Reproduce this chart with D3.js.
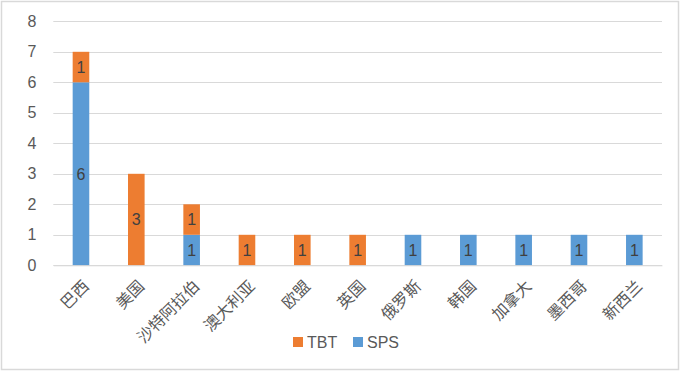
<!DOCTYPE html>
<html>
<head>
<meta charset="utf-8">
<script src="https://cdn.jsdelivr.net/npm/d3@7.9.0/dist/d3.min.js"></script>
<style>
  body { margin: 0; background: #fff; }
  svg { display: block; }
  text { font-family: "Liberation Sans", "Noto Sans CJK SC", sans-serif; }
</style>
</head>
<body>
<svg id="chart" width="681" height="373"></svg>
<script>
// Chart data
const categories = ['巴西', '美国', '沙特阿拉伯', '澳大利亚', '欧盟', '英国', '俄罗斯', '韩国', '加拿大', '墨西哥', '新西兰'];
const spsValues = [6, 0, 1, 0, 0, 0, 1, 1, 1, 1, 1];
const tbtValues = [1, 3, 1, 1, 1, 1, 0, 0, 0, 0, 0];
const yTicks = [0, 1, 2, 3, 4, 5, 6, 7, 8];

const colors = { SPS: '#5B9BD5', TBT: '#ED7D31' };

const svg = d3.select('#chart');

// outer border
svg.append('rect')
  .attr('x', 1.5).attr('y', 1.5)
  .attr('width', 677).attr('height', 368)
  .attr('fill', '#fff')
  .attr('stroke', '#d9d9d9')
  .attr('stroke-width', 1.5);

const plot = { left: 53.3, right: 662, top: 21.3, bottom: 265.3 };

const x = d3.scaleBand()
  .domain(categories)
  .range([plot.left, plot.right])
  .paddingInner(0.7)
  .paddingOuter(0.35);

const y = d3.scaleLinear()
  .domain([0, 8])
  .range([plot.bottom, plot.top]);

// gridlines
svg.append('g')
  .selectAll('line')
  .data(yTicks)
  .enter()
  .append('line')
  .attr('x1', plot.left)
  .attr('x2', plot.right)
  .attr('y1', d => Math.round(y(d)) + 0.5)
  .attr('y2', d => Math.round(y(d)) + 0.5)
  .attr('stroke', '#d9d9d9')
  .attr('stroke-width', 1);

// y axis labels
const yAxis = d3.axisLeft(y).tickValues(yTicks).tickSize(0).tickPadding(0);
svg.append('g')
  .attr('transform', `translate(${plot.left - 17},0)`)
  .call(yAxis)
  .call(g => g.select('.domain').remove())
  .selectAll('text')
  .attr('font-size', 16)
  .attr('fill', '#595959')
  .style('font-family', '"Liberation Sans", sans-serif');

// stacked data
const rows = categories.map((c, i) => ({ cat: c, SPS: spsValues[i], TBT: tbtValues[i] }));
const stack = d3.stack().keys(['SPS', 'TBT'])(rows);

const layers = svg.append('g')
  .selectAll('g')
  .data(stack)
  .enter()
  .append('g')
  .attr('fill', d => colors[d.key]);

layers.selectAll('rect')
  .data(d => d.filter(s => s[1] - s[0] > 0))
  .enter()
  .append('rect')
  .attr('x', d => x(d.data.cat))
  .attr('width', x.bandwidth())
  .attr('y', d => y(d[1]))
  .attr('height', d => y(d[0]) - y(d[1]));

// data labels
layers.selectAll('text')
  .data(d => d.filter(s => s[1] - s[0] > 0))
  .enter()
  .append('text')
  .attr('x', d => x(d.data.cat) + x.bandwidth() / 2)
  .attr('y', d => (y(d[0]) + y(d[1])) / 2)
  .attr('dy', '0.36em')
  .attr('text-anchor', 'middle')
  .attr('font-size', 16)
  .attr('fill', '#404040')
  .text(d => d[1] - d[0]);

// category labels, rotated
const xAxis = d3.axisBottom(x).tickSize(0).tickPadding(0);
svg.append('g')
  .attr('transform', `translate(0,${plot.bottom})`)
  .call(xAxis)
  .call(g => g.select('.domain').attr('stroke', '#d9d9d9'))
  .selectAll('text')
  .attr('font-size', 16)
  .attr('fill', '#595959')
  .style('font-family', '"Noto Sans CJK SC", sans-serif')
  .attr('text-anchor', 'end')
  .attr('dy', null)
  .attr('y', 0)
  .attr('x', 0)
  .attr('transform', 'translate(9,22) rotate(-45)');

// legend
const legendItems = [
  { key: 'TBT', x: 293 },
  { key: 'SPS', x: 353 }
];
const legend = svg.append('g')
  .selectAll('g')
  .data(legendItems)
  .enter()
  .append('g')
  .attr('transform', d => `translate(${d.x},337)`);

legend.append('rect')
  .attr('width', 10)
  .attr('height', 10)
  .attr('fill', d => colors[d.key]);

legend.append('text')
  .attr('x', 14)
  .attr('y', 10.5)
  .attr('font-size', 16)
  .attr('fill', '#595959')
  .text(d => d.key);
</script>
</body>
</html>
